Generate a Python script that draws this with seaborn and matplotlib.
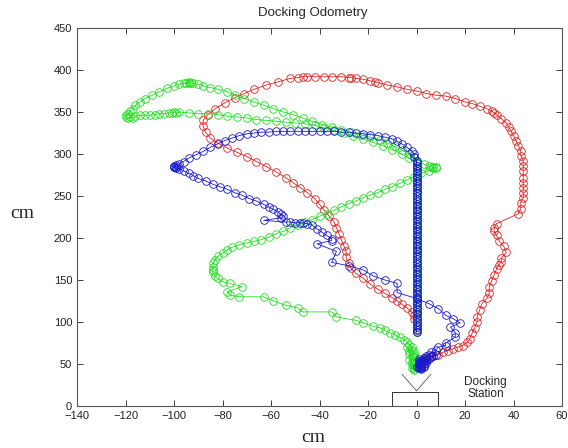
import numpy as np
import pandas as pd
import matplotlib.pyplot as plt
import seaborn as sns

# shared straight climb away from the dock (cm)
VERT_Y = [88, 91, 94, 97, 100, 103, 106, 109, 112, 115, 118, 121, 124, 127, 130, 133, 136,
          139, 142, 145, 148, 151, 154, 157, 160, 163, 166, 169, 172, 175, 178, 181, 184,
          187, 190, 193, 196, 199, 202, 205, 208, 211, 214, 217, 220, 223, 226, 229, 232,
          235, 238, 241, 244, 247, 250, 253, 256, 259, 262, 265, 268, 271, 274, 277, 280,
          283, 286, 289]
VERT_X = [0] * len(VERT_Y)

# red only goes a little way up the straight before turning left
RED_X = [0, 0, 0, 0, -1, -1, -2, -4, -6, -8, -10, -13, -16, -19, -22, -25, -27, -28, -29, -29,
         -30, -31, -32, -33, -34, -36, -38, -40, -42, -45, -48, -51, -54, -58, -62, -66, -70,
         -74, -78, -82, -85, -87, -88, -88, -86, -83, -79, -75, -71, -67, -62, -57, -52, -49,
         -47, -45, -42, -38, -35, -31, -28, -27, -25, -22, -19, -17, -16, -12, -8, -4, 0, 4, 8,
         12, 16, 20, 23, 26, 29, 31, 32, 33, 35, 37, 38, 39, 40, 41, 42, 43, 43, 44, 44, 44, 44,
         44, 44, 44, 44, 43, 43, 42, 33, 32, 32, 33, 34, 36, 37, 35, 35, 34, 33, 32, 31, 30, 30,
         29, 27, 26, 25, 25, 24, 23, 22, 21, 19, 17, 15, 13, 11, 9, 7, 5, 4]
RED_Y = [88, 92, 96, 100, 104, 108, 112, 117, 121, 125, 129, 134, 139, 145, 152, 158, 164, 170,
         177, 184, 191, 198, 205, 212, 219, 226, 233, 240, 247, 254, 260, 266, 272, 279, 285,
         291, 297, 302, 307, 313, 319, 326, 333, 340, 347, 354, 361, 367, 372, 377, 382, 386,
         390, 391, 392, 392, 392, 392, 392, 392, 391, 391, 390, 389, 387, 386, 385, 382, 380,
         377, 375, 372, 370, 369, 366, 362, 360, 357, 354, 351, 349, 347, 342, 337, 332, 327,
         322, 316, 310, 304, 298, 292, 286, 280, 272, 266, 260, 254, 248, 242, 235, 229, 217,
         212, 208, 203, 197, 190, 183, 176, 172, 168, 163, 156, 149, 142, 134, 128, 122, 114,
         106, 100, 93, 87, 80, 76, 72, 70, 68, 66, 64, 61, 59, 57, 56]

GREEN_X = [0, -1, -3, -6, -9, -12, -15, -19, -23, -27, -31, -35, -39, -43, -47, -51, -55, -59,
           -63, -67, -71, -75, -78, -82, -85, -88, -90, -92, -93, -94, -95, -94, -96, -98, -100,
           -103, -106, -109, -112, -114, -116, -117, -118, -119, -120, -120, -119, -118, -117,
           -116, -114, -112, -110, -108, -106, -104, -102, -101, -100, -99, -98, -94, -90, -86,
           -82, -78, -74, -70, -66, -62, -58, -54, -50, -46, -42, -38, -34, -30, -26, -22, -18,
           -14, -10, -6, -3, 0, 3, 5, 6, 7, 8, 8, 7, 5, 2, -1, -4, -7, -10, -13, -16, -19, -22,
           -25, -28, -31, -34, -37, -40, -43, -46, -49, -52, -55, -58, -61, -64, -67, -70, -73,
           -76, -78, -80, -82, -83, -84, -84, -84, -84, -83, -82, -80, -77, -72, -78, -77, -73,
           -63, -59, -54, -49, -47, -35, -33, -25, -22, -18, -15, -13, -11, -9, -7, -5, -4, -3,
           -2, -2, -1, -1, -1, -1, -1, -1, -1, -1, -2, -2, -3, -2, -3, -4, -3, -2, -1]
GREEN_Y = [292, 296, 300, 305, 309, 313, 317, 320, 323, 326, 329, 332, 335, 339, 343, 347, 350,
           354, 358, 362, 366, 370, 374, 377, 379, 381, 383, 384, 385, 386, 385, 384, 384, 383,
           381, 378, 374, 370, 366, 362, 358, 354, 351, 348, 346, 344, 343, 344, 343, 345, 346,
           346, 346, 347, 348, 348, 349, 349, 350, 349, 350, 349, 348, 348, 347, 345, 344, 343,
           341, 340, 339, 338, 337, 336, 334, 331, 328, 325, 322, 318, 314, 310, 305, 300, 295,
           291, 288, 286, 285, 284, 284, 283, 283, 280, 277, 273, 269, 265, 261, 258, 254, 251,
           248, 244, 241, 237, 233, 229, 226, 222, 219, 216, 212, 208, 205, 201, 198, 196, 194,
           192, 189, 186, 182, 178, 174, 170, 166, 162, 159, 155, 152, 148, 146, 142, 136, 132,
           130, 130, 125, 120, 117, 112, 112, 106, 102, 99, 95, 93, 90, 87, 85, 82, 79, 76, 73,
           70, 67, 64, 61, 58, 55, 52, 49, 46, 43, 45, 50, 55, 60, 65, 70, 62, 52, 44]

BLUE_X = [0, -1, -1, -2, -4, -6, -8, -10, -13, -16, -19, -22, -25, -28, -31, -34, -37, -40, -43,
          -46, -49, -52, -55, -58, -61, -64, -67, -70, -73, -76, -79, -82, -85, -88, -91, -94,
          -96, -98, -99, -100, -100, -99, -100, -99, -98, -96, -94, -92, -90, -87, -84, -81, -78,
          -75, -72, -69, -66, -63, -61, -59, -57, -56, -55, -56, -63, -54, -52, -50, -48, -47,
          -45, -43, -41, -39, -37, -35, -35, -41, -33, -35, -28, -22, -18, -13, -8, -8, 0, 5, 9,
          12, 15, 18, 14, 16, 16, 12, 12, 9, 8, 6, 5, 4, 3, 2, 1, 1, 1, 0, 1, 2, 2, 3, 3, 4, 5, 6,
          7, 8, 6, 4, 3, 2, 2, 2, 1, 2, 2, 3, 4, 3, 1, 2, 3, 1, 2]
BLUE_Y = [292, 296, 300, 304, 308, 312, 315, 318, 320, 322, 323, 324, 325, 326, 326, 327, 327,
          327, 327, 327, 327, 327, 327, 327, 326, 326, 325, 324, 322, 319, 316, 312, 308, 303,
          299, 295, 291, 288, 287, 286, 285, 285, 284, 283, 282, 280, 277, 274, 271, 268, 264,
          261, 258, 254, 251, 247, 244, 240, 237, 234, 231, 228, 226, 224, 221, 219, 219, 218,
          218, 218, 217, 215, 211, 207, 203, 199, 197, 193, 184, 171, 167, 162, 155, 150, 146,
          135, 128, 122, 116, 108, 104, 99, 94, 87, 82, 75, 72, 70, 67, 64, 61, 59, 57, 55, 53,
          51, 49, 47, 45, 46, 48, 50, 52, 54, 56, 58, 60, 61, 59, 57, 55, 53, 51, 49, 47, 45, 44,
          47, 51, 55, 56, 52, 48, 50, 46]

# docking station sketch
DOCK_X = [-10, -10, 9, 9]
DOCK_Y = [0, 17, 17, 0]
FUNNEL_X = [-6, 0, 6]
FUNNEL_Y = [38, 18, 38]

RED = "#d92525"
GREEN = "#22dd22"
BLUE = "#1a1acc"

sns.set_style("ticks")
plt.rcParams["font.family"] = ["Liberation Sans", "DejaVu Sans"]

fig = plt.figure(figsize=(5.68, 4.48), dpi=100)
ax = fig.add_axes([77 / 568, 42 / 448, 485 / 568, 378 / 448])

series = [
    (RED_X, RED_Y, RED),
    (VERT_X + GREEN_X, VERT_Y + GREEN_Y, GREEN),
    (VERT_X + BLUE_X, VERT_Y + BLUE_Y, BLUE),
]

for xs, ys, col in series:
    df = pd.DataFrame({"x": xs, "y": ys})
    sns.lineplot(data=df, x="x", y="y", sort=False, estimator=None, ax=ax,
                 color=col, lw=0.6, marker="o", markersize=5.5,
                 markerfacecolor="none", markeredgecolor=col, markeredgewidth=0.6)

ax.plot(DOCK_X, DOCK_Y, color="#333333", lw=0.7)
ax.plot(FUNNEL_X, FUNNEL_Y, color="#555555", lw=0.6)
ax.text(28.5, 22, "Docking\nStation", ha="center", va="center", fontsize=8.5,
        linespacing=1.0)

ax.set_xlim(-140, 60)
ax.set_ylim(0, 450)
ax.set_xticks(np.arange(-140, 61, 20))
ax.set_yticks(np.arange(0, 451, 50))
ax.set_xlabel("")
ax.set_ylabel("")
ax.tick_params(direction="in", top=True, right=True, length=4, width=0.6,
               labelsize=8, colors="#222222")
for s in ax.spines.values():
    s.set_color("#555555")
    s.set_linewidth(0.8)

fig.text(313 / 568, 1 - 13 / 448, "Docking Odometry", ha="center", va="center",
         fontsize=9.5)
fig.text(22 / 568, 1 - 213 / 448, "cm", ha="center", va="center", fontsize=14,
         family="Liberation Serif")
fig.text(313 / 568, 1 - 437 / 448, "cm", ha="center", va="center", fontsize=14,
         family="Liberation Serif")

fig.savefig("out.png", dpi=100)
